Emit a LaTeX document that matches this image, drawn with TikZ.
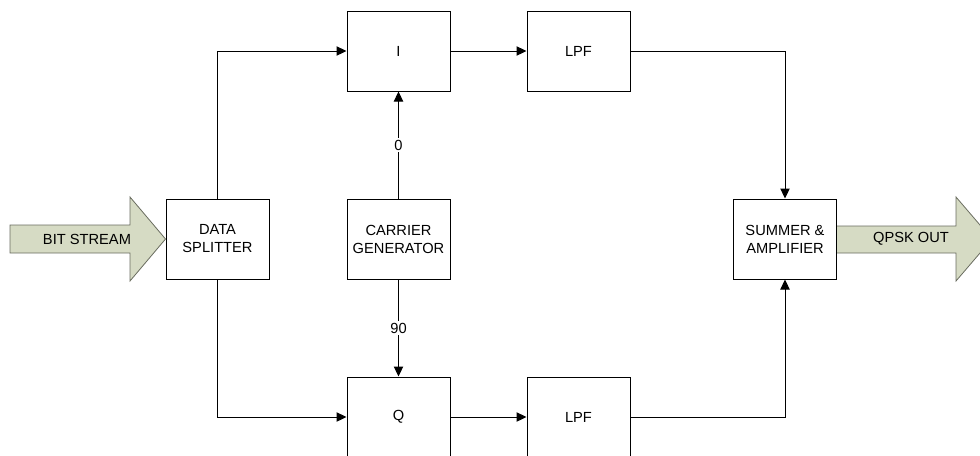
\documentclass[tikz,border=0pt]{standalone}
\usepackage{fontspec}
\setmainfont{Liberation Sans}
\usetikzlibrary{arrows.meta,positioning}
\definecolor{bigfill}{RGB}{214,219,196}
\definecolor{bigline}{RGB}{105,108,95}
\tikzset{pin/.style={-{Triangle[length=7.5pt,width=7pt]}, line width=0.75pt},
  blk/.style={draw, line width=0.75pt, fill=white, align=center,
    minimum width=77.25pt, minimum height=60pt, font=\fontsize{11}{13.5}\selectfont},
  lbl/.style={fill=white, inner sep=1.5pt, font=\fontsize{11}{13}\selectfont},
  bigarr/.style={draw=bigline, fill=bigfill, line width=0.6pt}}

\begin{document}
\begin{tikzpicture}[x=0.75pt,y=-0.75pt]
  \useasboundingbox (0,0) rectangle (980,455);
  % boxes
  \node[blk] (split) at (217.5,239) {DATA\\SPLITTER};
  \node[blk] (carrier) at (398.5,239) {CARRIER\\GENERATOR};
  \node[blk] (i) at (398.5,51) {I};
  \node[blk] (q) at (398.5,417) {Q};
  \node[blk] (lpfi) at (578.5,51) {LPF};
  \node[blk] (lpfq) at (578.5,417) {LPF};
  \node[blk] (summer) at (785,239) {SUMMER \&\\AMPLIFIER};
  % input / output block arrows
  \draw[bigarr] (10,225) -- (130,225) -- (130,197) -- (split.west) -- (130,281) -- (130,253) -- (10,253) -- cycle;
  \node[lbl, fill=none] (bits) at (87,239) {BIT STREAM};
  \draw[bigarr] (summer.east |- 0,226) -- (956,226) -- (956,197) -- (992,239) -- (956,281) -- (956,253) -- (summer.east |- 0,253);
  \node[lbl, fill=none] (qpsk) at (911,239) {QPSK OUT};
  % connectors
  \draw[pin] (split.north) |- (i.west);
  \draw[pin] (split.south) |- (q.west);
  \draw[pin] (carrier.north) -- node[lbl]{0} (i.south);
  \draw[pin] (carrier.south) -- node[lbl]{90} (q.north);
  \draw[pin] (i.east) -- (lpfi.west);
  \draw[pin] (q.east) -- (lpfq.west);
  \draw[pin] (lpfi.east) -| (summer.north);
  \draw[pin] (lpfq.east) -| (summer.south);
\end{tikzpicture}
\end{document}
